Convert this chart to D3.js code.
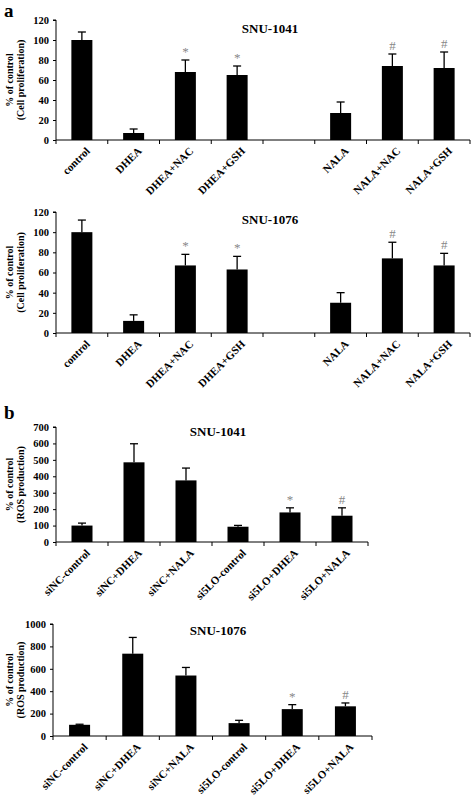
<!DOCTYPE html>
<html><head><meta charset="utf-8">
<script src="https://cdn.jsdelivr.net/npm/d3@7"></script>
<style>body{margin:0;background:#fff}svg{display:block}text{font-family:"Liberation Serif","Times New Roman",serif;font-weight:bold}</style>
</head><body>
<svg id="c" width="472" height="798"></svg>
<script>
const catsA = ["control","DHEA","DHEA+NAC","DHEA+GSH","","NALA","NALA+NAC","NALA+GSH"];
const p1Vals = [100,7,68,65,null,27,74,72];
const p1Err  = [8,4,12,9,null,11,12,16];
const p1Sig  = ["","","*","*","","","#","#"];
const p2Vals = [100,12,67,63,null,30,74,67];
const p2Err  = [12,6,11,13,null,10,16,12];
const p2Sig  = ["","","*","*","","","#","#"];
const catsB = ["siNC-control","siNC+DHEA","siNC+NALA","si5LO-control","si5LO+DHEA","si5LO+NALA"];
const p3Vals = [100,485,375,93,180,160];
const p3Err  = [15,113,75,8,28,48];
const p3Sig  = ["","","","","*","#"];
const p4Vals = [100,735,540,115,240,265];
const p4Err  = [5,145,72,25,40,30];
const p4Sig  = ["","","","","*","#"];

const svg = d3.select("#c");
function panel(o){
  const g = svg.append("g");
  const x = d3.scaleBand().domain(o.cats.map((c,i)=>i)).range([o.x0,o.x1]);
  const y = d3.scaleLinear().domain([0,o.max]).range([o.yb,o.yt]);
  const bw = 21;
  const ya = g.append("g").attr("transform",`translate(${o.x0},0)`)
    .call(d3.axisLeft(y).tickValues(d3.range(0,o.max+1,o.step)).tickFormat(d3.format("d")).tickSize(3).tickPadding(4));
  ya.select(".domain").attr("d",`M-3,${o.yt}H0V${o.yb}`);
  ya.selectAll("text").style("font-size","10.5px").style("font-family","Liberation Serif").style("font-weight","bold");
  const xa = g.append("g").attr("transform",`translate(0,${o.yb})`);
  xa.append("line").attr("x1",o.x0).attr("x2",o.x1).attr("stroke","#000");
  o.cats.forEach((c,i)=>{
    const bx = x(i)+x.bandwidth();
    xa.append("line").attr("x1",bx).attr("x2",bx).attr("y1",0).attr("y2",4).attr("stroke","#000");
    if(c) xa.append("text").attr("transform",`translate(${x(i)+x.bandwidth()/2+6},${9}) rotate(-45)`)
      .attr("text-anchor","end").attr("dy","0.35em").style("font-size","11px").text(c);
  });
  xa.append("line").attr("x1",o.x0).attr("x2",o.x0).attr("y1",0).attr("y2",4).attr("stroke","#000");
  o.vals.forEach((v,i)=>{
    if(v==null) return;
    const cx = x(i)+x.bandwidth()/2;
    const top = y(v+o.err[i]);
    g.append("line").attr("x1",cx).attr("x2",cx).attr("y1",y(v)).attr("y2",top).attr("stroke","#000").attr("stroke-width",1.3);
    g.append("line").attr("x1",cx-4).attr("x2",cx+4).attr("y1",top).attr("y2",top).attr("stroke","#000").attr("stroke-width",1.3);
    g.append("rect").attr("x",cx-bw/2).attr("y",y(v)).attr("width",bw).attr("height",y(0)-y(v)).attr("fill","#000");
    if(o.sig[i]) g.append("text").attr("x",cx).attr("y",top-4).attr("text-anchor","middle")
      .style("font-size","13px").style("font-weight","normal").attr("fill","#888").text(o.sig[i]);
  });
  g.append("text").attr("x",o.tx).attr("y",o.ty).attr("text-anchor","middle").style("font-size","13px").text(o.title);
  const my = (o.yt+o.yb)/2;
  g.append("text").attr("transform",`translate(13,${my}) rotate(-90)`).attr("text-anchor","middle").style("font-size","10px").text("% of control");
  g.append("text").attr("transform",`translate(24,${my}) rotate(-90)`).attr("text-anchor","middle").style("font-size","10px").text(o.ytitle);
}
svg.append("text").attr("x",4).attr("y",17).style("font-size","19px").text("a");
svg.append("text").attr("x",4).attr("y",419).style("font-size","19px").text("b");
panel({cats:catsA,vals:p1Vals,err:p1Err,sig:p1Sig,x0:56,x1:470,yt:20,yb:140,max:120,step:20,title:"SNU-1041",tx:270,ty:33,ytitle:"(Cell proliferation)"});
panel({cats:catsA,vals:p2Vals,err:p2Err,sig:p2Sig,x0:56,x1:470,yt:212,yb:333,max:120,step:20,title:"SNU-1076",tx:270,ty:224,ytitle:"(Cell proliferation)"});
panel({cats:catsB,vals:p3Vals,err:p3Err,sig:p3Sig,x0:56,x1:368,yt:427,yb:542,max:700,step:100,title:"SNU-1041",tx:218,ty:436,ytitle:"(ROS production)"});
panel({cats:catsB,vals:p4Vals,err:p4Err,sig:p4Sig,x0:53,x1:372,yt:624,yb:736,max:1000,step:200,title:"SNU-1076",tx:218,ty:635,ytitle:"(ROS production)"});
</script></body></html>
